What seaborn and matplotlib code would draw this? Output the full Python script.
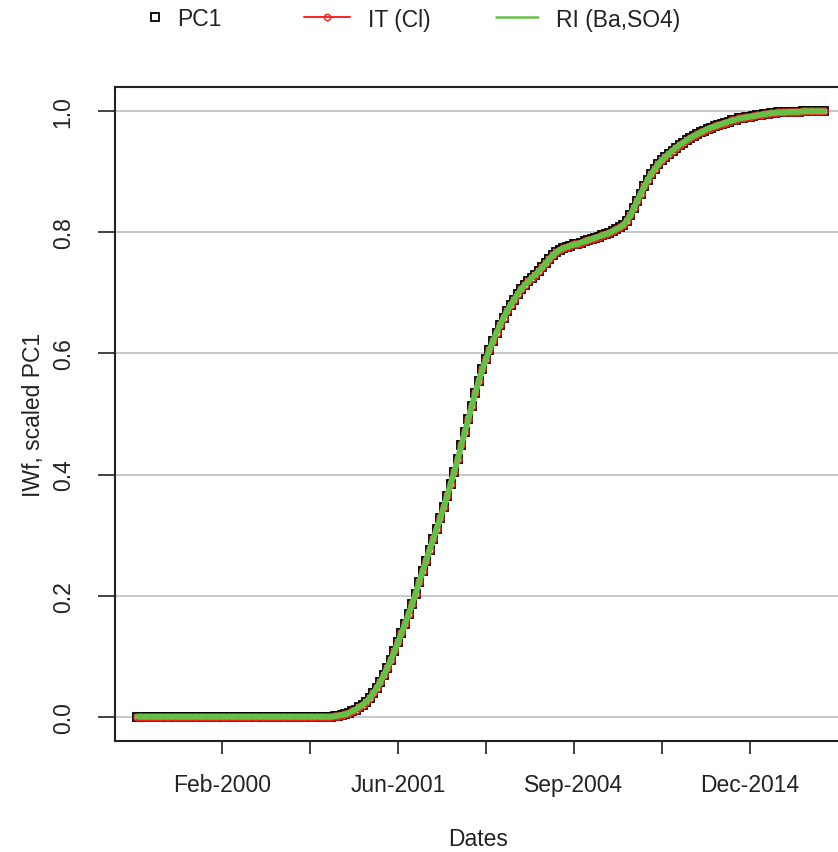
import matplotlib
matplotlib.use("Agg")
import matplotlib.pyplot as plt
import seaborn as sns
import pandas as pd
import numpy as np
from matplotlib.lines import Line2D

# ---- data ----
pc1 = [
    0.000, 0.000, 0.000, 0.000, 0.000, 0.000, 0.000, 0.000, 0.000, 0.000, 0.000, 0.000, 0.000, 0.000,
    0.000, 0.000, 0.000, 0.000, 0.000, 0.000, 0.000, 0.000, 0.000, 0.000, 0.000, 0.000, 0.000, 0.000,
    0.000, 0.000, 0.000, 0.000, 0.000, 0.000, 0.000, 0.000, 0.000, 0.000, 0.000, 0.000, 0.000, 0.000,
    0.000, 0.000, 0.000, 0.000, 0.000, 0.000, 0.000, 0.000, 0.000, 0.000, 0.000, 0.000, 0.000, 0.000,
    0.001, 0.002, 0.003, 0.004, 0.006, 0.009, 0.012, 0.016, 0.020, 0.025,
    0.031, 0.039, 0.048, 0.058, 0.069, 0.081, 0.094, 0.108, 0.123, 0.138,
    0.153, 0.169, 0.186, 0.203, 0.222, 0.240, 0.258, 0.276, 0.293, 0.310,
    0.328, 0.346, 0.365, 0.385, 0.405, 0.426, 0.448, 0.470, 0.492, 0.514,
    0.535, 0.555, 0.574, 0.591, 0.606, 0.620, 0.634, 0.647, 0.659, 0.670,
    0.680, 0.689, 0.698, 0.706, 0.713, 0.719, 0.725, 0.730, 0.736, 0.742,
    0.749, 0.756, 0.762, 0.767, 0.771, 0.774, 0.776, 0.778, 0.780, 0.781,
    0.783, 0.785, 0.787, 0.789, 0.791, 0.793, 0.795, 0.797, 0.799, 0.802,
    0.805, 0.808, 0.812, 0.819, 0.828, 0.840, 0.852, 0.864, 0.876, 0.887,
    0.897, 0.905, 0.913, 0.919, 0.925, 0.930, 0.935, 0.940, 0.944, 0.948,
    0.952, 0.956, 0.959, 0.962, 0.965, 0.968, 0.971, 0.973, 0.975, 0.977,
    0.979, 0.981, 0.983, 0.985, 0.986, 0.988, 0.989, 0.990, 0.991, 0.992,
    0.993, 0.994, 0.995, 0.996, 0.997, 0.997, 0.998, 0.998, 0.998, 0.999,
    0.999, 0.999, 0.999, 1.000, 1.000, 1.000, 1.000, 1.000, 1.000, 1.000,
]
# IT (Cl) and RI (Ba,SO4) overlay PC1 in the picture
it_cl = list(pc1)
ri_ba_so4 = list(pc1)

tick_idx = [25, 50, 75, 100, 125, 150, 175]
tick_labels = ["Feb-2000", "", "Jun-2001", "", "Sep-2004", "", "Dec-2014"]
y_ticks = [0.0, 0.2, 0.4, 0.6, 0.8, 1.0]
y_labels = ["0.0", "0.2", "0.4", "0.6", "0.8", "1.0"]

# ---- style ----
sns.set_style("white")
plt.rcParams['font.family'] = ['Liberation Sans', 'DejaVu Sans']
FS = 16.5
TXT = "#222222"
RED = "#FF2020"
GREEN = "#66C046"

fig = plt.figure(figsize=(8.38, 8.53), dpi=100)
ax = fig.add_axes([115 / 838, 111 / 853, 736 / 838, 654 / 853])

df = pd.DataFrame({
    "idx": np.arange(1, len(pc1) + 1),
    "PC1": pc1,
    "IT": it_cl,
    "RI": ri_ba_so4,
})

for yv in y_ticks:
    ax.axhline(yv, color="#C4C4C4", lw=1.3, zorder=0)

sns.lineplot(data=df, x="idx", y="PC1", ax=ax, linestyle="none", marker="s",
             markerfacecolor="none", markeredgecolor="black", markersize=6.3,
             markeredgewidth=1.3, errorbar=None, sort=False, legend=False, zorder=2)
sns.lineplot(data=df, x="idx", y="IT", ax=ax, color=RED, lw=1.2, marker="o",
             markerfacecolor="none", markeredgecolor=RED, markersize=5.0,
             markeredgewidth=1.1, errorbar=None, sort=False, legend=False, zorder=3)
sns.lineplot(data=df, x="idx", y="RI", ax=ax, color=GREEN, lw=4.3,
             errorbar=None, sort=False, legend=False, zorder=4)

ax.set_xlim(-5.39, 203.7)
ax.set_ylim(-0.04, 1.04)
ax.set_xticks(tick_idx)
ax.set_xticklabels(tick_labels)
ax.set_yticks(y_ticks)
ax.set_yticklabels(y_labels, rotation=90, va="center")

for sp in ax.spines.values():
    sp.set_color(TXT)
    sp.set_linewidth(1.5)

ax.tick_params(axis="x", length=9.4, width=1.2, direction="out", pad=14,
               labelsize=FS, colors=TXT, bottom=True)
ax.tick_params(axis="y", length=12, width=1.2, direction="out", pad=17,
               labelsize=FS, colors=TXT, left=True)

ax.set_xlabel("Dates", fontsize=FS, color=TXT)
ax.set_ylabel("IWf, scaled PC1", fontsize=FS, color=TXT)
ax.xaxis.label.set_va("center")
ax.yaxis.label.set_va("center")
ax.xaxis.set_label_coords((478 - 115) / 736, (853 - 840 - 111) / 654)
ax.yaxis.set_label_coords((34 - 115) / 736, 0.5)

# ---- legend (top, outside plot) ----
ly = 1 - 20 / 853
h1 = Line2D([], [], linestyle="none", marker="s", markerfacecolor="none",
            markeredgecolor="black", markersize=5.5, markeredgewidth=1.3)
h2 = Line2D([], [], color=RED, lw=1.4, marker="o", markerfacecolor="none",
            markeredgecolor=RED, markersize=4.5, markeredgewidth=1.1)
h3 = Line2D([], [], color=GREEN, lw=1.8)
common = dict(loc="center left", frameon=False, borderpad=0, borderaxespad=0,
              fontsize=FS, labelcolor=TXT)
fig.legend(handles=[h1], labels=["PC1"], bbox_to_anchor=(143.5 / 838, ly),
           handlelength=1.0, handletextpad=0.46, **common)
fig.legend(handles=[h2], labels=["IT (Cl)"], bbox_to_anchor=(304 / 838, ly),
           handlelength=2.0, handletextpad=0.78, **common)
fig.legend(handles=[h3], labels=["RI (Ba,SO4)"], bbox_to_anchor=(496 / 838, ly),
           handlelength=1.83, handletextpad=0.78, **common)

fig.savefig("out.png", dpi=100)
